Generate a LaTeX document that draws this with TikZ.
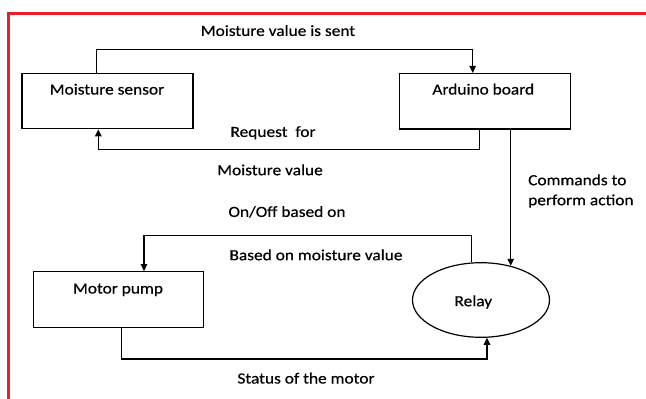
\documentclass[tikz,border=0pt]{standalone}
\usepackage{fontspec}
\setmainfont[FakeStretch=1.12,FakeBold=0.5]{Carlito}
\usetikzlibrary{arrows.meta,shapes.geometric}
\definecolor{frame}{RGB}{232,30,40}
\tikzset{
  box/.style={draw=black, line width=1.2bp, rectangle, inner sep=0pt, minimum width=171bp, minimum height=55.5bp},
  oval/.style={draw=black, line width=1.2bp, ellipse, inner sep=0pt, minimum width=137bp, minimum height=74.6bp},
  lbl/.style={inner sep=0pt, anchor=base, font=\fontsize{15.5bp}{20bp}\selectfont},
  conn/.style={draw=black, line width=1.2bp},
  arr/.style={conn, -{Triangle[length=7bp,width=6.5bp]}}
}
\begin{document}
\begin{tikzpicture}[x=1bp,y=-1bp]
\useasboundingbox (0,0) rectangle (646,398);
\fill[white] (0,0) rectangle (646,398);
% red frame
\draw[frame, line width=3.5bp] (8.7,400) -- (8.7,13.3) -- (648,13.3);
% boxes
\node[box] (ms) at (107.5,101) {};
\node[box] (ard) at (484.7,101.3) {};
\node[box, minimum width=170bp, minimum height=55.6bp] (mp) at (118.3,299.5) {};
\node[oval] (relay) at (481,300) {};
% box texts
\node[lbl] (mst) at (107,94.5) {Moisture sensor};
\node[lbl] (ardt) at (483.3,94.5) {Arduino board};
\node[lbl] (mpt) at (118,293.5) {Motor pump};
\node[lbl] (relayt) at (473.3,306.2) {Relay};
% connectors
\draw[arr] ([xshift=-10.8bp]ms.north) -- ++(0,-23.3) -| ([xshift=-12bp]ard.north);
\draw[arr] ([xshift=-5.4bp]ard.south) -- ++(0,20.2) -| ([xshift=-9.2bp]ms.south);
\draw[arr] (ard.south -| relay.49.4) -- (relay.49.4);
\draw[arr] (relay.104.1) -- ++(0,-27) -| ([xshift=25.7bp]mp.north);
\draw[arr] ([xshift=3.4bp]mp.south) -- ++(0,31) -| (relay.279.6);
% connector labels
\node[lbl] (l1) at (278,35.9) {Moisture value is sent};
\node[lbl] (l2) at (273,136.9) {Request~~for};
\node[lbl] (l3) at (270,175.2) {Moisture value};
\node[lbl, anchor=base west] (l4) at (528,185.2) {Commands to};
\node[lbl, anchor=base west] (l5) at (528,205.2) {perform action};
\node[lbl] (l6) at (287,216.9) {On/Off based on};
\node[lbl] (l7) at (316,260.2) {Based on moisture value};
\node[lbl] (l8) at (306,383.5) {Status of the motor};
\end{tikzpicture}
\end{document}
